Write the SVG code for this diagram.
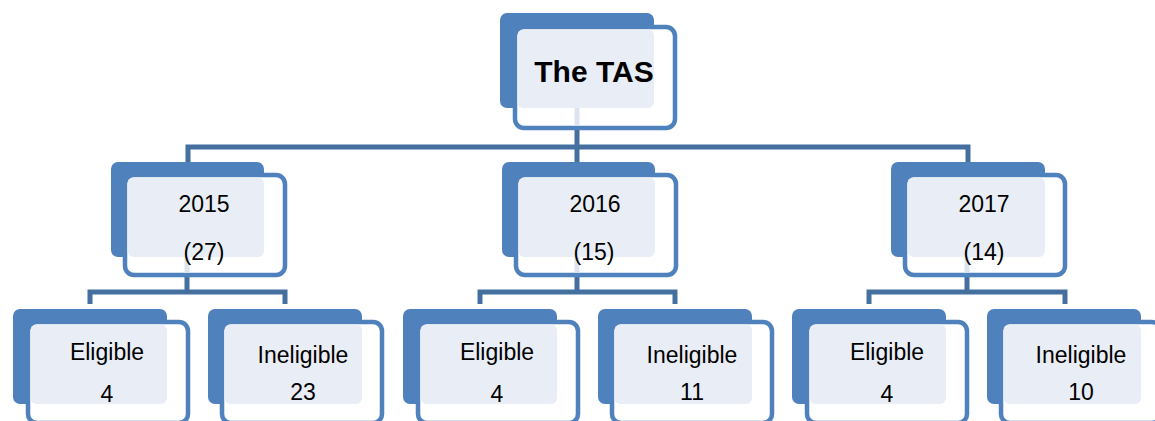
<svg xmlns="http://www.w3.org/2000/svg" width="1155" height="421" viewBox="0 0 1155 421">
<style>
.back{fill:#4F81BD}
.front{fill:#FFFFFF;stroke:#4F81BD;stroke-width:4.5}
.light{fill:#E9EEF6}
.conn{fill:none;stroke:#44709F;stroke-width:5}
.ghost{stroke:#DCE4EF;stroke-width:5}
text{font-family:"Liberation Sans",Arial,sans-serif;fill:#000;text-anchor:middle}
.t2{font-size:23px}
.t1{font-size:30px;font-weight:bold}
</style>
<rect width="1155" height="421" fill="#FFFFFF"/>
<g id="connectors">
<path class="conn" d="M577,128 V147 M188,162 V147 H968 V162 M577,147 V162"/>
<path class="conn" d="M187,275 V292 M90,304 V292 H285 V304"/>
<path class="conn" d="M577,275 V292 M480,304 V292 H675 V304"/>
<path class="conn" d="M967,275 V292 M869,304 V292 H1065 V304"/>
</g>
<g id="node-tas">
<rect class="back" x="500" y="13" width="154" height="95" rx="7"/>
<rect class="front" x="515" y="27" width="160" height="101" rx="9"/>
<rect class="light" x="517.5" y="29.5" width="136.5" height="78.5" rx="6"/>
<line class="ghost" x1="577" y1="108" x2="577" y2="125.5"/>
<text class="t1" x="594" y="82">The TAS</text>
</g>
<g id="node-2015">
<rect class="back" x="111" y="162" width="153" height="95" rx="7"/>
<rect class="front" x="125" y="175" width="160" height="100" rx="9"/>
<rect class="light" x="127.5" y="177.5" width="136.5" height="79.5" rx="6"/>
<line class="ghost" x1="187" y1="257" x2="187" y2="272.5"/>
<text class="t2" x="204" y="212">2015</text>
<text class="t2" x="204" y="260">(27)</text>
</g>
<g id="node-2016">
<rect class="back" x="502" y="162" width="153" height="95" rx="7"/>
<rect class="front" x="516" y="175" width="160" height="100" rx="9"/>
<rect class="light" x="518.5" y="177.5" width="136.5" height="79.5" rx="6"/>
<line class="ghost" x1="577" y1="257" x2="577" y2="272.5"/>
<text class="t2" x="595" y="212">2016</text>
<text class="t2" x="594" y="260">(15)</text>
</g>
<g id="node-2017">
<rect class="back" x="891" y="162" width="154" height="95" rx="7"/>
<rect class="front" x="905" y="175" width="160" height="100" rx="9"/>
<rect class="light" x="907.5" y="177.5" width="137.5" height="79.5" rx="6"/>
<line class="ghost" x1="967" y1="257" x2="967" y2="272.5"/>
<text class="t2" x="984" y="212">2017</text>
<text class="t2" x="984" y="260">(14)</text>
</g>
<g id="node-2015-eligible">
<rect class="back" x="13" y="309" width="154" height="95" rx="7"/>
<rect class="front" x="28" y="322" width="160" height="101" rx="9"/>
<rect class="light" x="30.5" y="324.5" width="136.5" height="79.5" rx="6"/>
<text class="t2" x="107" y="360">Eligible</text>
<text class="t2" x="107" y="402">4</text>
</g>
<g id="node-2015-ineligible">
<rect class="back" x="208" y="309" width="154" height="95" rx="7"/>
<rect class="front" x="222" y="322" width="160" height="101" rx="9"/>
<rect class="light" x="224.5" y="324.5" width="137.5" height="79.5" rx="6"/>
<text class="t2" x="303" y="363">Ineligible</text>
<text class="t2" x="303" y="400">23</text>
</g>
<g id="node-2016-eligible">
<rect class="back" x="403" y="309" width="154" height="95" rx="7"/>
<rect class="front" x="418" y="322" width="160" height="101" rx="9"/>
<rect class="light" x="420.5" y="324.5" width="136.5" height="79.5" rx="6"/>
<text class="t2" x="497" y="360">Eligible</text>
<text class="t2" x="497" y="402">4</text>
</g>
<g id="node-2016-ineligible">
<rect class="back" x="598" y="309" width="154" height="95" rx="7"/>
<rect class="front" x="612" y="322" width="160" height="101" rx="9"/>
<rect class="light" x="614.5" y="324.5" width="137.5" height="79.5" rx="6"/>
<text class="t2" x="692" y="363">Ineligible</text>
<text class="t2" x="692" y="400">11</text>
</g>
<g id="node-2017-eligible">
<rect class="back" x="792" y="309" width="154" height="95" rx="7"/>
<rect class="front" x="807" y="322" width="160" height="101" rx="9"/>
<rect class="light" x="809.5" y="324.5" width="136.5" height="79.5" rx="6"/>
<text class="t2" x="887" y="360">Eligible</text>
<text class="t2" x="887" y="402">4</text>
</g>
<g id="node-2017-ineligible">
<rect class="back" x="987" y="309" width="154" height="95" rx="7"/>
<rect class="front" x="1001" y="322" width="160" height="101" rx="9"/>
<rect class="light" x="1003.5" y="324.5" width="137.5" height="79.5" rx="6"/>
<text class="t2" x="1081" y="363">Ineligible</text>
<text class="t2" x="1081" y="400">10</text>
</g>
</svg>
